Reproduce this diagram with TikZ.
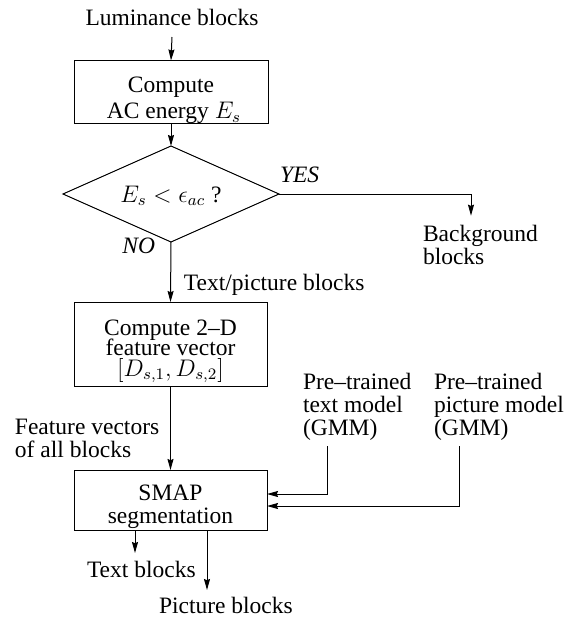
\documentclass[tikz,border=0pt]{standalone}
\usepackage{fontspec}
\setmainfont{Liberation Serif}
\usetikzlibrary{arrows.meta,shapes.geometric}
\newcommand{\fA}{\fontsize{11.75pt}{11.5pt}\selectfont\lineskiplimit=-8pt\relax}
\newcommand{\fB}{\fontsize{11.75pt}{13pt}\selectfont\lineskiplimit=-8pt\relax}
\newcommand{\fC}{\fontsize{11.75pt}{10.25pt}\selectfont\lineskiplimit=-8pt\relax}
\newcommand{\lift}[1]{\rule{0pt}{#1}}
\begin{document}
\begin{tikzpicture}[x=0.5pt,y=-0.5pt,
  every node/.style={inner sep=0pt, outer sep=0pt},
  font=\fA,
  proc/.style={draw, line width=0.5pt, align=center, minimum width=96.5pt},
  lbl/.style={align=left, anchor=base west},
  arr/.style={line width=0.5pt, -{Stealth[length=5.5pt,width=3pt,inset=0.6pt]}}]
\useasboundingbox (0,0) rectangle (568,617);

% nodes (base anchor of a multi-line node = baseline of its last line)
\node[anchor=base] (lum) at (172,25) {Luminance blocks};
\node[proc, minimum width=97pt, minimum height=30pt, font=\fB] (b1) at (171,92)
  {\lift{16pt}Compute\\ \ AC energy $E_s$};
\node[draw, line width=0.5pt, diamond, shape aspect=2.25, minimum width=108pt,
      minimum height=48pt] (dec) at (171,194) {\lift{10pt}$E_s < \epsilon_{ac}$ ?};
\node[lbl, font=\fA\itshape] (yes) at (280,182) {YES};
\node[anchor=base east, font=\fA\itshape] (no) at (155,253) {NO};
\node[lbl] (bg) at (423,264) {Background\\blocks};
\node[lbl] (tp) at (184,290) {Text/picture blocks};
\node[proc, minimum height=42pt, font=\fC] (b2) at (170.5,344)
  {\lift{15pt}Compute 2--D\\feature vector\\$[D_{s,1},D_{s,2}]$};
\node[lbl] (fv) at (15,457) {Feature vectors\\of all blocks};
\node[lbl] (tm) at (303,435) {Pre--trained\\text model\\(GMM)};
\node[lbl] (pm) at (434,435) {Pre--trained\\picture model\\(GMM)};
\node[proc, minimum height=30pt] (smap) at (170.5,500) {\lift{15pt}SMAP\\segmentation};
\node[lbl] (tb) at (87,577) {Text blocks};
\node[lbl] (pb) at (159,613) {Picture blocks};

% connectors
\draw[arr] ([yshift=-6pt]lum.base) -- (b1.north);
\draw[arr] (b1.south) -- (dec.north);
\draw[arr] (dec.east) -| ([xshift=24pt,yshift=4.5pt]bg.north west);
\draw[arr] (dec.south) -- (b2.north);
\draw[arr] (b2.south) -- (smap.north);
\draw[arr] ([xshift=12pt,yshift=-3pt]tm.south west) |- ([yshift=3pt]smap.east);
\draw[arr] ([xshift=12.5pt,yshift=-3pt]pm.south west) |- ([yshift=-3pt]smap.east);
\draw[arr] ([xshift=-17.75pt]smap.south) -- ++(0,23);
\draw[arr] ([xshift=18.25pt]smap.south) -- ++(0,60);
\end{tikzpicture}
\end{document}
